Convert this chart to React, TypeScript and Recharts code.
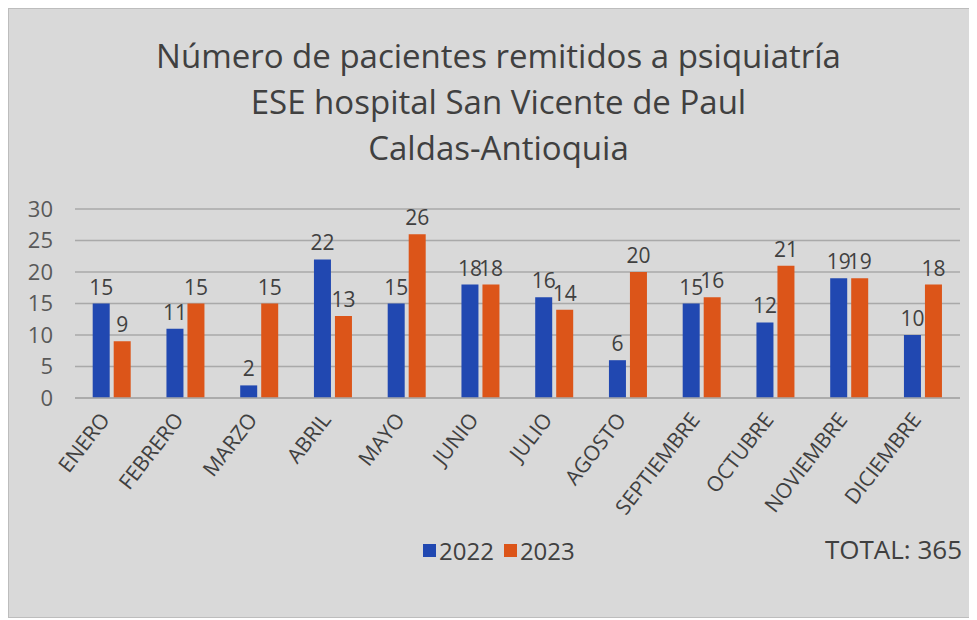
import { BarChart, Bar, XAxis, YAxis, CartesianGrid, LabelList } from "recharts"

const months = [
  "ENERO",
  "FEBRERO",
  "MARZO",
  "ABRIL",
  "MAYO",
  "JUNIO",
  "JULIO",
  "AGOSTO",
  "SEPTIEMBRE",
  "OCTUBRE",
  "NOVIEMBRE",
  "DICIEMBRE",
]
const values2022 = [15, 11, 2, 22, 15, 18, 16, 6, 15, 12, 19, 10]
const values2023 = [9, 15, 15, 13, 26, 18, 14, 20, 16, 21, 19, 18]
const yTicks = [0, 5, 10, 15, 20, 25, 30]
const titleLines = [
  "Número de pacientes remitidos a psiquiatría",
  "ESE hospital San Vicente de Paul",
  "Caldas-Antioquia",
]
const totalLabel = "TOTAL: 365"

const series = [
  { key: "y2022", name: "2022", color: "#2148b1" },
  { key: "y2023", name: "2023", color: "#dc5519" },
]

const data = months.map((m, i) => ({ month: m, y2022: values2022[i], y2023: values2023[i] }))

const FONT = "'Open Sans', sans-serif"

function MonthTick({ x, y, payload }: any) {
  return (
    <g transform={`translate(${x - 1},${y + 14})`}>
      <text
        x={0}
        y={0}
        textAnchor="end"
        transform="rotate(-52)"
        fontSize={21}
        fontFamily={FONT}
        fill="#404040"
      >
        {payload.value}
      </text>
    </g>
  )
}

export default function App() {
  return (
    <div
      style={{
        position: "relative",
        width: 967,
        height: 608,
        background: "#d9d9d9",
        border: "1px solid #bdbdbd",
        fontFamily: FONT,
      }}
    >
      <div
        style={{
          position: "absolute",
          left: 6,
          top: 24,
          width: 967,
          textAlign: "center",
          fontSize: 33,
          lineHeight: "46px",
          color: "#404040",
        }}
      >
        {titleLines.map((t) => (
          <div key={t}>{t}</div>
        ))}
      </div>

      <div style={{ position: "absolute", left: 0, top: 0 }}>
        <BarChart
          width={967}
          height={608}
          data={data}
          margin={{ top: 200, right: 16, left: 0, bottom: 0 }}
          barCategoryGap="24%"
          barGap={4}
        >
          <CartesianGrid vertical={false} stroke="#a9a9a9" strokeWidth={1.5} />
          <XAxis
            dataKey="month"
            interval={0}
            height={219}
            tickLine={false}
            axisLine={{ stroke: "#a9a9a9", strokeWidth: 1.5 }}
            tick={<MonthTick />}
          />
          <YAxis
            width={66}
            domain={[0, 30]}
            ticks={yTicks}
            axisLine={false}
            tickLine={false}
            tickSize={10}
            tickMargin={12}
            tick={{ fontSize: 22, fill: "#595959", fontFamily: FONT }}
          />
          {series.map((s) => (
            <Bar key={s.key} dataKey={s.key} name={s.name} fill={s.color} isAnimationActive={false}>
              <LabelList
                dataKey={s.key}
                position="top"
                offset={9}
                fontSize={21}
                fill="#404040"
                fontFamily={FONT}
              />
            </Bar>
          ))}
        </BarChart>
      </div>

      <div
        style={{
          position: "absolute",
          left: 414,
          top: 525,
          display: "flex",
          alignItems: "center",
          fontSize: 24,
          color: "#404040",
        }}
      >
        {series.map((s) => (
          <div key={s.key} style={{ display: "flex", alignItems: "center", marginRight: 10 }}>
            <span style={{ width: 13, height: 13, background: s.color, marginRight: 3 }} />
            <span>{s.name}</span>
          </div>
        ))}
      </div>

      <div
        style={{
          position: "absolute",
          right: 14,
          top: 522,
          fontSize: 26,
          color: "#404040",
        }}
      >
        {totalLabel}
      </div>
    </div>
  )
}
